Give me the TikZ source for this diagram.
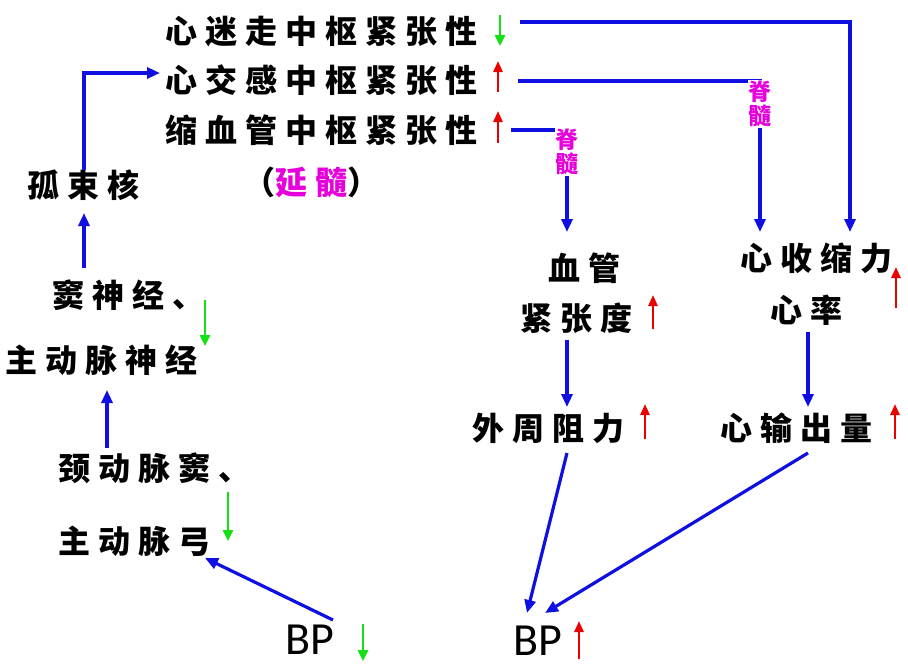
\documentclass[tikz,border=0pt]{standalone}
\usepackage{fontspec}
\setmainfont{Carlito}
\newfontfamily\cjk{Noto Sans CJK SC}[LetterSpace=25]
\newfontfamily\cjkplain{Noto Sans CJK SC}
\usetikzlibrary{arrows.meta,calc}
\definecolor{lnblue}{RGB}{15,15,225}
\definecolor{upred}{RGB}{235,0,0}
\definecolor{dngreen}{RGB}{20,225,20}
\definecolor{mag}{RGB}{230,0,220}
\begin{document}
\begin{tikzpicture}[x=1pt,y=-1pt,
  txt/.style={inner sep=0pt, anchor=west, font=\cjk\bfseries\fontsize{32}{32}\selectfont},
  conn/.style={draw=lnblue, line width=3.2pt, -{Triangle[length=13pt,width=11pt]}},
  upr/.style={draw=upred, line width=2.6pt, -{Triangle[length=11pt,width=9pt]}},
  dng/.style={draw=dngreen, line width=2.6pt, -{Triangle[length=11pt,width=10pt]}},
  spine/.style={inner sep=1pt, fill=white, text=mag, font=\cjkplain\bfseries\fontsize{23}{24}\selectfont, align=center},
  bp/.style={inner sep=0pt, anchor=west, font=\fontsize{46}{46}\selectfont}]
\useasboundingbox[fill=white] (0,0) rectangle (908,670);

% text nodes
\node[txt] (r1) at (165,32) {心迷走中枢紧张性};
\node[txt] (r2) at (165,80) {心交感中枢紧张性};
\node[txt] (r3) at (165,130) {缩血管中枢紧张性};
\node[txt] (ys) at (243,182) {（\textcolor{mag}{延髓}）};
\node[txt] (gs) at (27,185) {孤束核};
\node[txt] (dsj) at (52,295) {窦神经、};
\node[txt] (zdm) at (5,360) {主动脉神经};
\node[txt] (jdm) at (58,468) {颈动脉窦、};
\node[txt] (zdg) at (58,541) {主动脉弓};
\node[bp] (bpl) at (285,640) {BP};
\node[bp] (bpr) at (513,641) {BP};
\node[txt] (xg) at (548,268) {血管};
\node[txt] (jzd) at (520,318) {紧张度};
\node[txt] (wz) at (472,428) {外周阻力};
\node[txt] (xs) at (740,258) {心收缩力};
\node[txt] (xl) at (770,310) {心率};
\node[txt] (xc) at (720,428) {心输出量};

% connector end points
\coordinate (s1) at (520,22);  \coordinate (e1) at (850,232);
\coordinate (s2) at (518,81);  \coordinate (e2) at (760,232);
\coordinate (s3) at (511,130); \coordinate (e3) at (567,232);
\coordinate (g1) at (84,170);  \coordinate (r2in) at (160,73);
\coordinate (d1) at (84,268);  \coordinate (d2) at (84,213);
\coordinate (j1) at (107,448); \coordinate (j2) at (107,390);
\coordinate (b1) at (333,620); \coordinate (b2) at (205,558);
\coordinate (t1) at (567,340); \coordinate (t2) at (567,407);
\coordinate (h1) at (808,332); \coordinate (h2) at (808,407);
\coordinate (w1) at (567,453); \coordinate (w2) at (527,613);
\coordinate (c1) at (808,453); \coordinate (c2) at (545,613);

% connectors
\draw[conn] (s1) -| (e1);
\draw[conn] (s2) -| (e2);
\draw[conn] (s3) -| (e3);
\draw[conn] (g1) |- (r2in);
\draw[conn] (d1) -- (d2);
\draw[conn] (j1) -- (j2);
\draw[conn] (b1) -- (b2);
\draw[conn] (t1) -- (t2);
\draw[conn] (h1) -- (h2);
\draw[conn] (w1) -- (w2);
\draw[conn] (c1) -- (c2);

% spinal cord labels
\node[spine] (sp1) at (567,152) {脊\\髓};
\node[spine] (sp2) at (760,104) {脊\\髓};

% small up/down indicators
\draw[dng] (500,15) -- (500,46);
\draw[upr] (498,92) -- (498,61);
\draw[upr] (498,143) -- (498,111);
\draw[dng] (205,300) -- (205,346);
\draw[dng] (228,492) -- (228,541);
\draw[dng] (363,624) -- (363,661);
\draw[upr] (579,659) -- (579,621);
\draw[upr] (653,329) -- (653,295);
\draw[upr] (645,439) -- (645,404);
\draw[upr] (896,308) -- (896,267);
\draw[upr] (895,439) -- (895,404);
\end{tikzpicture}
\end{document}
